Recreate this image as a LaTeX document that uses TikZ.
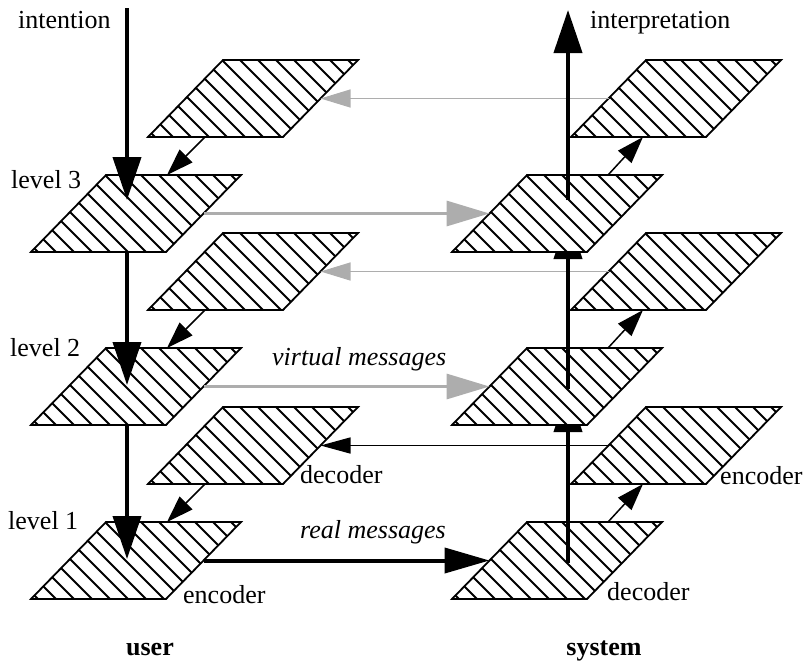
\documentclass[tikz,border=0pt]{standalone}
\usepackage{fontspec}
\setmainfont{Liberation Serif}
\usetikzlibrary{arrows.meta,calc}
\definecolor{msggray}{gray}{0.68}
\tikzset{
  hatch/.style={line width=1.8pt},
  outline/.style={line width=1.8pt, line join=miter},
  bigarrow/.style={line width=4pt, -{Triangle[length=43pt,width=28pt]}},
  smallarrow/.style={line width=1.5pt, -{Triangle[length=27pt,width=18pt]}},
  realfront/.style={line width=4pt, -{Triangle[length=45pt,width=25pt]}},
  realback/.style={line width=1.5pt, -{Triangle[length=30pt,width=16pt]}},
  virtfront/.style={line width=3.3pt, draw=msggray, -{Triangle[length=43pt,width=25pt]}},
  virtback/.style={line width=1.2pt, draw=msggray, -{Triangle[length=30pt,width=18pt]}},
  lbl/.style={font=\fontsize{26}{30}\selectfont, inner sep=0pt},
}
% plate: name, x of bottom-left corner, y of bottom-left corner (y grows downward)
\newcommand\plate[3]{%
  \coordinate (#1-bl) at (#2,#3);
  \coordinate (#1-br) at (#2+135,#3);
  \coordinate (#1-tr) at (#2+210,#3-77);
  \coordinate (#1-tl) at (#2+75,#3-77);
  \coordinate (#1-l) at (#2+37.5,#3-38.5);
  \coordinate (#1-r) at (#2+172.5,#3-38.5);
  \begin{scope}
    \clip (#1-bl)--(#1-br)--(#1-tr)--(#1-tl)--cycle;
    \fill[white] (#1-bl)--(#1-br)--(#1-tr)--(#1-tl)--cycle;
    \foreach \u in {0,...,15} \draw[hatch] (#2+15+\u*18,#3+8) -- ++(-100,-100);
  \end{scope}
  \draw[outline] (#1-bl)--(#1-br)--(#1-tr)--(#1-tl)--cycle;
}
\begin{document}
\begin{tikzpicture}[x=1pt,y=-1pt]
\useasboundingbox (0,0) rectangle (808,662);
% back plates
\plate{L3B}{148}{137}
\plate{L2B}{148}{310}
\plate{L1B}{148}{484}
\plate{R3B}{571}{137}
\plate{R2B}{571}{310}
\plate{R1B}{571}{484}
% front plates, left
\plate{L3F}{31}{252}
\plate{L2F}{31}{425}
\plate{L1F}{31}{599}
% back messages
\draw[virtback] (R3B-l) -- (L3B-r);
\draw[virtback] (R2B-l) -- (L2B-r);
\draw[realback] (R1B-l) -- (L1B-r);
% right front plates with upward arrows
\plate{R1F}{452}{599}
\coordinate (R1F-v) at ($(R1F-bl)+(116,-36)$);
\coordinate (R2F-v) at ($(R1F-bl)+(116,-210)$);
\draw[bigarrow] (R1F-v) -- (R2F-v);
\plate{R2F}{452}{425}
\coordinate (R3F-v) at ($(R2F-bl)+(116,-209)$);
\draw[bigarrow] (R2F-v) -- (R3F-v);
\plate{R3F}{452}{252}
\coordinate (R3F-w) at ($(R3F-bl)+(116,-52)$);
\coordinate (interp-end) at (568,10);
\draw[bigarrow] (R3F-w) -- (interp-end);
% left downward arrows
\coordinate (intent-start) at (127,8);
\coordinate (L3F-a) at ($(L3F-bl)+(96,-52)$);
\coordinate (L3F-b) at ($(L3F-bl)+(96,0)$);
\coordinate (L2F-a) at ($(L2F-bl)+(96,-40)$);
\coordinate (L2F-b) at ($(L2F-bl)+(96,0)$);
\coordinate (L1F-a) at ($(L1F-bl)+(96,-40)$);
\draw[bigarrow] (intent-start) -- (L3F-a);
\draw[bigarrow] (L3F-b) -- (L2F-a);
\draw[bigarrow] (L2F-b) -- (L1F-a);
% small arrows between back and front plates
\foreach \n in {3,2,1}{
  \draw[smallarrow] ($(L\n B-bl)+(57,0)$) -- ($(L\n F-tl)+(61,0)$);
  \draw[smallarrow] ($(R\n F-tl)+(81,0)$) -- ($(R\n B-bl)+(72,0)$);
}
% front messages
\draw[virtfront] (L3F-r) -- (R3F-l);
\draw[virtfront] (L2F-r) -- (R2F-l);
\draw[realfront] (L1F-r) -- (R1F-l);
% labels
\node[lbl, anchor=base west] (t-intention) at (18,28) {intention};
\node[lbl, anchor=base west] (t-interp) at (590,28) {interpretation};
\node[lbl, anchor=base west] (t-lev3) at (11,188) {level 3};
\node[lbl, anchor=base west] (t-lev2) at (10,356) {level 2};
\node[lbl, anchor=base west] (t-lev1) at (8,529) {level 1};
\node[lbl, anchor=base west] (t-virt) at (272,365) {\itshape virtual messages};
\node[lbl, anchor=base west] (t-real) at (300,538) {\itshape real messages};
\node[lbl, anchor=base west] (t-dec-l) at (300,483) {decoder};
\node[lbl, anchor=base west] (t-enc-l) at (183,603) {encoder};
\node[lbl, anchor=base west] (t-enc-r) at (720,484) {encoder};
\node[lbl, anchor=base west] (t-dec-r) at (607,600) {decoder};
\node[lbl, anchor=base] (t-user) at (150,655) {\bfseries user};
\node[lbl, anchor=base] (t-system) at (604,655) {\bfseries system};
\end{tikzpicture}
\end{document}
